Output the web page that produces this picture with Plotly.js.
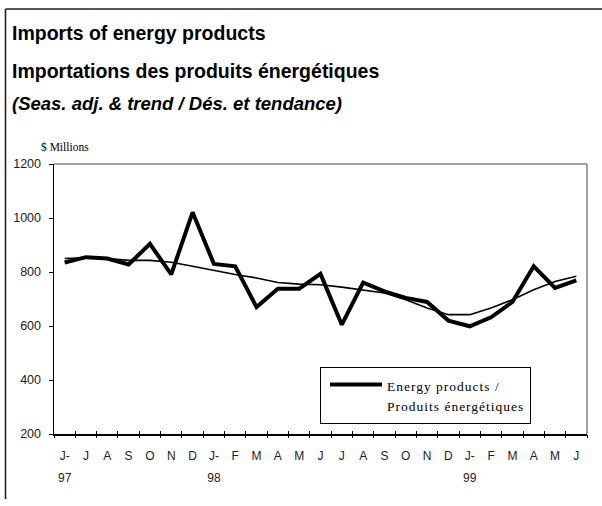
<!DOCTYPE html>
<html><head><meta charset="utf-8">
<script src="https://cdn.plot.ly/plotly-3.0.1.min.js"></script>
<style>html,body{margin:0;padding:0;background:#fff}#chart{width:602px;height:506px}</style>
</head><body><div id="chart"></div>
<script>
const months = ['J-','J','A','S','O','N','D','J-','F','M','A','M','J','J','A','S','O','N','D','J-','F','M','A','M','J'];
const years  = ['97','','','','','','','98','','','','','','','','','','','','99','','','','',''];
const energy = [835,855,850,828,904,791,1021,830,821,670,738,738,793,605,761,728,704,689,620,599,632,689,821,741,769];
const trend  = [850,853,850,843,843,836,821,805,791,778,761,755,753,744,734,722,697,667,642,642,667,697,734,765,784];
const yTicks = [200,400,600,800,1000,1200];
const legendLines = ['Energy products /','Produits énergétiques'];

const idx = months.map((m,i)=>i);
const bounds = months.concat(['']).map((m,i)=>i-0.5);
const span = s => "<span style='font-size:12px'>"+s+"</span>";
const lspan = s => "<span style='font-size:13.5px;letter-spacing:1px'>"+s+"</span>";
const tickText = months.map((m,i)=> years[i] ? span(m)+'<br>'+span(years[i]) : span(m));

const L=54, R=587, T=164, B=434;
const W=R-L, H=B-T;
const px = v => (v-L)/W;
const py = v => (B-v)/H;

const traces = [
  {x: idx, y: trend, mode:'lines', line:{color:'#000', width:1.6}, showlegend:false, hoverinfo:'skip'},
  {x: idx, y: energy, mode:'lines', line:{color:'#000', width:4}, name: legendLines.map(lspan).join('<br>')},
  {x: [bounds[0], bounds[bounds.length-1]], y:[null,null], xaxis:'x2', showlegend:false, hoverinfo:'skip'},
  {x: [bounds[0], bounds[bounds.length-1]], y:[null,null], xaxis:'x3', showlegend:false, hoverinfo:'skip'}
];

const xr = [bounds[0], bounds[bounds.length-1]];
const layout = {
  width:602, height:506,
  margin:{l:L, r:602-R, t:T, b:506-B, pad:0},
  paper_bgcolor:'#fff', plot_bgcolor:'#fff',
  font:{family:'Liberation Sans, Arial, sans-serif', color:'#000', size:12},
  showlegend:true,
  xaxis:{range:xr, tickmode:'array', tickvals:idx, ticktext:tickText, ticks:'', showgrid:false, zeroline:false,
         showline:true, linecolor:'#000', linewidth:1.5, tickfont:{size:17, color:'#222'}, ticklabelstandoff:4, fixedrange:true},
  xaxis2:{range:xr, overlaying:'x', anchor:'y', side:'bottom', tickmode:'array', tickvals:bounds, ticks:'outside', ticklen:3, tickwidth:1, tickcolor:'#000',
          showticklabels:false, showgrid:false, zeroline:false, showline:false},
  xaxis3:{range:xr, overlaying:'x', anchor:'y', side:'bottom', tickmode:'array', tickvals:bounds, ticks:'inside', ticklen:3, tickwidth:1, tickcolor:'#000',
          showticklabels:false, showgrid:false, zeroline:false, showline:false},
  yaxis:{range:[200,1200], tickmode:'array', tickvals:yTicks, ticks:'outside', ticklen:4, tickwidth:1, tickcolor:'#000',
         showgrid:false, zeroline:false, showline:true, linecolor:'#000', linewidth:1.5, tickfont:{size:12.5, color:'#222'}, ticklabelstandoff:5, fixedrange:true},
  legend:{x:px(320), y:py(395), xanchor:'left', yanchor:'middle', bgcolor:'#fff', bordercolor:'#000', borderwidth:1, valign:'top',
          font:{family:'Liberation Serif, Times New Roman, serif', size:16, color:'#000'}, itemwidth:52, indentation:4},
  shapes:[
    {type:'line', xref:'paper', yref:'paper', x0:0, x1:1, y0:1, y1:1, line:{color:'#808080', width:1.5}},
    {type:'line', xref:'paper', yref:'paper', x0:1, x1:1, y0:0, y1:1, line:{color:'#808080', width:1.5}},
    {type:'line', xref:'paper', yref:'paper', x0:px(5.5), x1:px(602), y0:py(9), y1:py(9), line:{color:'#222', width:1.6}},
    {type:'line', xref:'paper', yref:'paper', x0:px(5.5), x1:px(5.5), y0:py(9), y1:py(499), line:{color:'#222', width:1.6}}
  ],
  annotations:[
    {text:'<b>Imports of energy products</b>', xref:'paper', yref:'paper', x:px(10), y:py(33.5), xanchor:'left', yanchor:'middle', showarrow:false, font:{size:19.5, family:'Liberation Sans, Arial, sans-serif'}},
    {text:'<b>Importations des produits énergétiques</b>', xref:'paper', yref:'paper', x:px(10), y:py(71), xanchor:'left', yanchor:'middle', showarrow:false, font:{size:19.5, family:'Liberation Sans, Arial, sans-serif'}},
    {text:'<b><i>(Seas. adj. &amp; trend / Dés. et tendance)</i></b>', xref:'paper', yref:'paper', x:px(10), y:py(103), xanchor:'left', yanchor:'middle', showarrow:false, font:{size:18.5, family:'Liberation Sans, Arial, sans-serif'}},
    {text:'$ Millions', xref:'paper', yref:'paper', x:px(39), y:py(147), xanchor:'left', yanchor:'middle', showarrow:false, font:{size:11.5, family:'Liberation Serif, Times New Roman, serif'}}
  ]
};
Plotly.newPlot('chart', traces, layout, {displayModeBar:false, staticPlot:true});
</script></body></html>
